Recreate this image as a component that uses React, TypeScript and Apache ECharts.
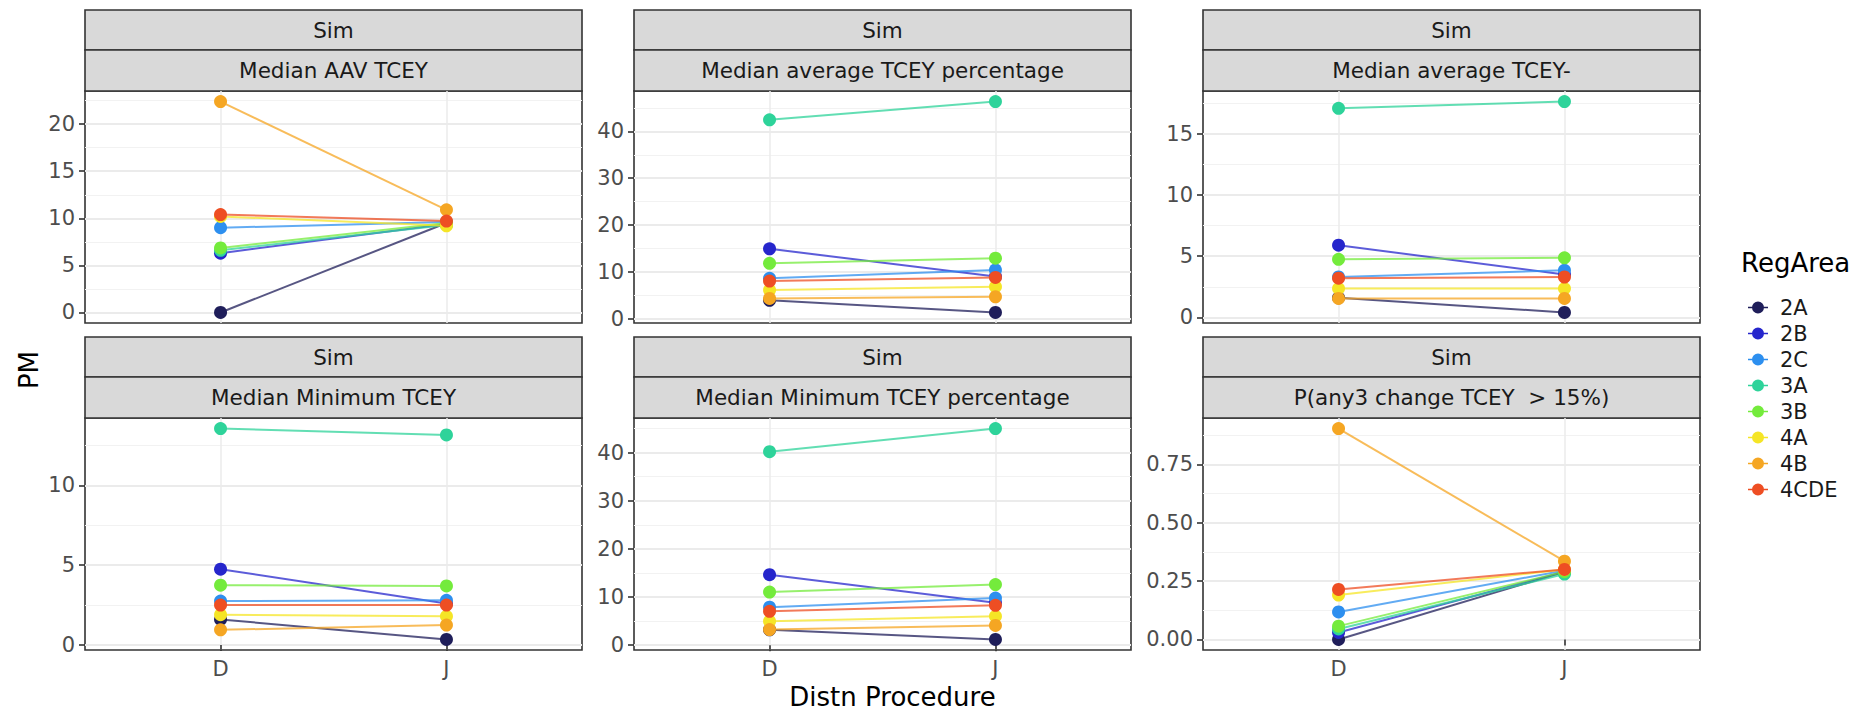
import React, { useEffect, useRef } from 'react';
import * as echarts from 'echarts';

// ---------------- data ----------------
const regions = ['2A', '2B', '2C', '3A', '3B', '4A', '4B', '4CDE'];
const regionColors = ['#1F1E5A', '#2626CC', '#2D8FEF', '#2ED39A', '#74EB3C', '#F5E526', '#F5A623', '#EE4E23'];
const procedures = ['D', 'J'];
const outerStrip = 'Sim';
const panelTitles = [
  'Median AAV TCEY',
  'Median average TCEY percentage',
  'Median average TCEY-',
  'Median Minimum TCEY',
  'Median Minimum TCEY percentage',
  'P(any3 change TCEY  > 15%)',
];

// values per region (order of `regions`), for procedure D and J
const aavTceyD = [0.0, 6.3, 9.0, 6.6, 6.85, 10.2, 22.4, 10.4];
const aavTceyJ = [9.5, 9.4, 9.6, 9.3, 9.5, 9.2, 10.9, 9.7];
const avgPctD = [3.9, 14.9, 8.6, 42.5, 11.8, 6.1, 4.3, 8.0];
const avgPctJ = [1.3, 9.0, 10.4, 46.4, 12.9, 6.8, 4.65, 8.8];
const avgTceyD = [1.6, 5.9, 3.3, 17.1, 4.75, 2.35, 1.55, 3.2];
const avgTceyJ = [0.4, 3.5, 3.85, 17.65, 4.87, 2.35, 1.55, 3.3];
const minTceyD = [1.6, 4.75, 2.75, 13.55, 3.75, 1.9, 0.95, 2.5];
const minTceyJ = [0.35, 2.6, 2.8, 13.15, 3.7, 1.8, 1.25, 2.5];
const minPctD = [3.2, 14.65, 7.9, 40.2, 11.05, 5.0, 3.25, 7.05];
const minPctJ = [1.2, 8.8, 9.8, 45.0, 12.6, 6.0, 4.1, 8.3];
const pChangeD = [0.0, 0.03, 0.118, 0.045, 0.057, 0.19, 0.903, 0.214];
const pChangeJ = [0.29, 0.29, 0.295, 0.28, 0.29, 0.3, 0.335, 0.3];

const panelD = [aavTceyD, avgPctD, avgTceyD, minTceyD, minPctD, pChangeD];
const panelJ = [aavTceyJ, avgPctJ, avgTceyJ, minTceyJ, minPctJ, pChangeJ];

const yMajorTicks = [
  [0, 5, 10, 15, 20],
  [0, 10, 20, 30, 40],
  [0, 5, 10, 15],
  [0, 5, 10],
  [0, 10, 20, 30, 40],
  [0, 0.25, 0.5, 0.75],
];
const yMinorTicks = [
  [2.5, 7.5, 12.5, 17.5, 22.5],
  [5, 15, 25, 35, 45],
  [2.5, 7.5, 12.5, 17.5],
  [2.5, 7.5, 12.5],
  [5, 15, 25, 35, 45],
  [0.125, 0.375, 0.625, 0.875],
];
const yDecimals = [0, 0, 0, 0, 0, 2];

const xTitle = 'Distn Procedure';
const yTitle = 'PM';
const legendTitle = 'RegArea';

// ---------------- layout ----------------
const FONT = 'DejaVu Sans';
const colLeft = [85, 634, 1203];
const panelW = 497;
const panelH = 232;
const rowStripTop = [10, 337];
const strip1H = 40;
const strip2H = 41;

export default function App() {
  const ref = useRef<HTMLDivElement>(null);

  useEffect(() => {
    if (!ref.current) return;
    const chart = echarts.init(ref.current, undefined, { renderer: 'svg' });

    const grids: any[] = [];
    const xAxes: any[] = [];
    const yAxes: any[] = [];
    const series: any[] = [];
    const graphics: any[] = [];

    for (let p = 0; p < 6; p++) {
      const col = p % 3;
      const row = Math.floor(p / 3);
      const left = colLeft[col];
      const stripTop = rowStripTop[row];
      const top = stripTop + strip1H + strip2H;
      const all = [...panelD[p], ...panelJ[p]];
      const lo = Math.min(...all);
      const hi = Math.max(...all);
      const pad = (hi - lo) * 0.05;
      const ymin = lo - pad;
      const ymax = hi + pad;
      const isBottom = row === 1;

      grids.push({
        left,
        top,
        width: panelW,
        height: panelH,
        show: true,
        backgroundColor: '#FFFFFF',
        borderColor: '#333333',
        borderWidth: 1.6,
        containLabel: false,
        outerBoundsMode: 'none',
      });

      xAxes.push({
        type: 'value',
        gridIndex: p,
        min: 0.4,
        max: 2.6,
        axisLine: { show: false },
        axisTick: {
          show: isBottom,
          customValues: [1, 2],
          length: 6,
          lineStyle: { color: '#333333', width: 1.6 },
        },
        axisLabel: {
          show: isBottom,
          customValues: [1, 2],
          formatter: (v: number) => procedures[Math.round(v) - 1] ?? '',
          fontFamily: FONT,
          fontSize: 21,
          color: '#4D4D4D',
          margin: 8,
        },
        splitLine: { show: true, lineStyle: { color: '#EBEBEB', width: 1.5 } },
      });

      // major y axis
      yAxes.push({
        type: 'value',
        gridIndex: p,
        min: ymin,
        max: ymax,
        axisLine: { show: false },
        axisTick: {
          show: true,
          customValues: yMajorTicks[p],
          length: 6,
          lineStyle: { color: '#333333', width: 1.6 },
        },
        axisLabel: {
          customValues: yMajorTicks[p],
          formatter: (v: number) => v.toFixed(yDecimals[p]),
          fontFamily: FONT,
          fontSize: 21,
          color: '#4D4D4D',
          margin: 10,
        },
        splitLine: { show: true, lineStyle: { color: '#EBEBEB', width: 2 } },
      });
      // minor y axis (grid lines only)
      yAxes.push({
        type: 'value',
        gridIndex: p,
        min: ymin,
        max: ymax,
        position: 'left',
        axisLine: { show: false },
        axisTick: { show: false, customValues: yMinorTicks[p] },
        axisLabel: { show: false, customValues: yMinorTicks[p] },
        splitLine: { show: true, lineStyle: { color: '#F2F2F2', width: 1 } },
      });

      regions.forEach((r, i) => {
        const pts = [
          [1, panelD[p][i]],
          [2, panelJ[p][i]],
        ];
        series.push({
          type: 'line',
          name: r,
          xAxisIndex: p,
          yAxisIndex: 2 * p,
          data: pts,
          symbol: 'none',
          color: regionColors[i],
          lineStyle: { color: regionColors[i], width: 2, opacity: 0.75 },
          z: 2,
          silent: true,
        });
        series.push({
          type: 'scatter',
          name: r,
          xAxisIndex: p,
          yAxisIndex: 2 * p,
          data: pts,
          symbol: 'circle',
          symbolSize: 13,
          color: regionColors[i],
          itemStyle: { color: regionColors[i], opacity: 1, borderWidth: 0 },
          z: 3,
          silent: true,
        });
      });

      // strips
      graphics.push({
        type: 'rect',
        shape: { x: left, y: stripTop, width: panelW, height: strip1H },
        style: { fill: '#D9D9D9', stroke: '#333333', lineWidth: 1.6 },
      });
      graphics.push({
        type: 'text',
        x: left + panelW / 2,
        y: stripTop + strip1H / 2,
        style: {
          text: outerStrip,
          fill: '#1A1A1A',
          font: `21.5px "${FONT}"`,
          align: 'center',
          verticalAlign: 'middle',
        },
      });
      graphics.push({
        type: 'rect',
        shape: { x: left, y: stripTop + strip1H, width: panelW, height: strip2H },
        style: { fill: '#D9D9D9', stroke: '#333333', lineWidth: 1.6 },
      });
      graphics.push({
        type: 'text',
        x: left + panelW / 2,
        y: stripTop + strip1H + strip2H / 2,
        style: {
          text: panelTitles[p],
          fill: '#1A1A1A',
          font: `21.5px "${FONT}"`,
          align: 'center',
          verticalAlign: 'middle',
        },
      });
    }

    // axis titles
    graphics.push({
      type: 'text',
      x: (colLeft[0] + colLeft[2] + panelW) / 2,
      y: 697,
      style: {
        text: xTitle,
        fill: '#000000',
        font: `26px "${FONT}"`,
        align: 'center',
        verticalAlign: 'middle',
      },
    });
    graphics.push({
      type: 'text',
      x: 29,
      y: 370,
      rotation: Math.PI / 2,
      style: {
        text: yTitle,
        fill: '#000000',
        font: `26px "${FONT}"`,
        align: 'center',
        verticalAlign: 'middle',
      },
    });
    graphics.push({
      type: 'text',
      x: 1741,
      y: 263,
      style: {
        text: legendTitle,
        fill: '#000000',
        font: `26px "${FONT}"`,
        align: 'left',
        verticalAlign: 'middle',
      },
    });

    const keyIcon = 'path://M0,5.2H20V6.8H0Z M4,6A6,6,0,1,1,16,6A6,6,0,1,1,4,6Z';

    chart.setOption({
      animation: false,
      backgroundColor: '#FFFFFF',
      grid: grids,
      xAxis: xAxes,
      yAxis: yAxes,
      series,
      legend: {
        orient: 'vertical',
        left: 1743,
        top: 292,
        itemWidth: 20,
        itemHeight: 12,
        itemGap: 5,
        selectedMode: false,
        data: regions.map((r, i) => ({
          name: r,
          icon: keyIcon,
          itemStyle: { color: regionColors[i], opacity: 1 },
        })),
        textStyle: {
          fontFamily: FONT,
          fontSize: 21,
          color: '#1A1A1A',
          lineHeight: 20,
          padding: [0, 0, 0, 7],
        },
      },
      graphic: graphics,
    });

    return () => chart.dispose();
  }, []);

  return (
    <div
      ref={ref}
      style={{ position: 'absolute', left: 0, top: 0, width: 1872, height: 713, background: '#fff' }}
    />
  );
}
